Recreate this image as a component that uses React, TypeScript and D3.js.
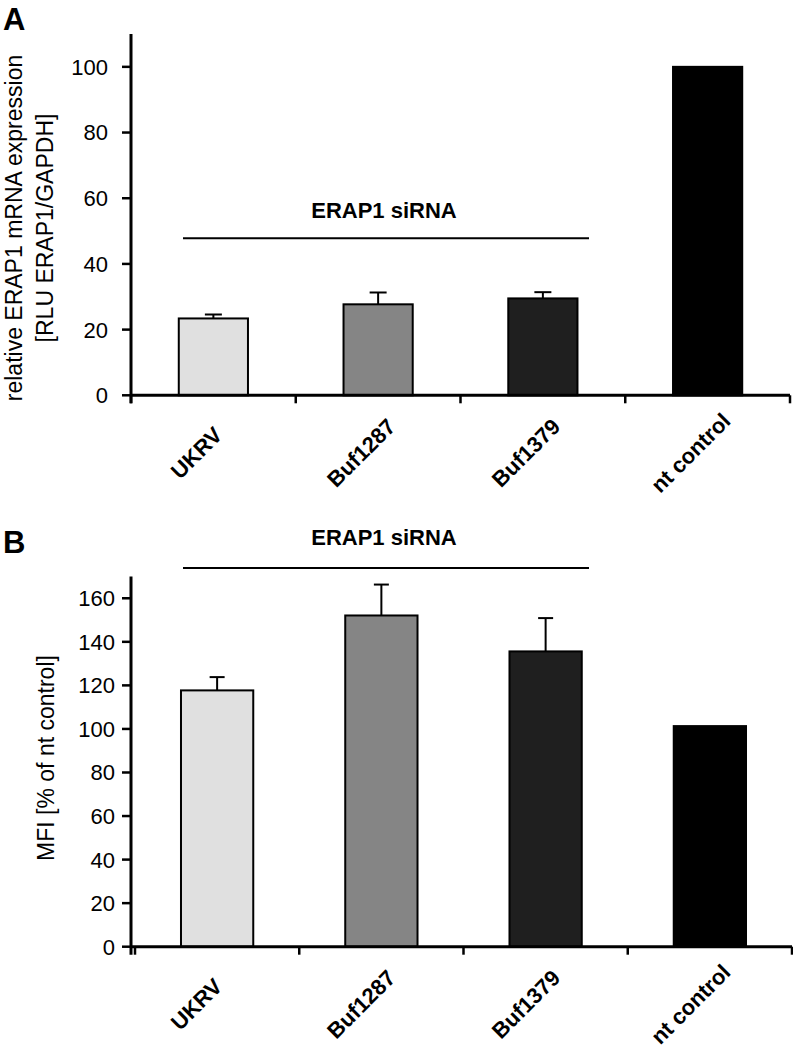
import React from "react";
import * as d3 from "d3";

const categories = ["UKRV", "Buf1287", "Buf1379", "nt control"];
const colors = ["#e0e0e0", "#858585", "#1f1f1f", "#000000"];

const mrnaValues = [23.4, 27.7, 29.5, 100];
const mrnaErrors = [1.2, 3.6, 1.9, 0];
const mrnaTicks = [0, 20, 40, 60, 80, 100];

const mfiValues = [117.7, 152.1, 135.6, 101.3];
const mfiErrors = [6.1, 14.2, 15.3, 0];
const mfiTicks = [0, 20, 40, 60, 80, 100, 120, 140, 160];

const FONT = "'Liberation Sans', Arial, Helvetica, sans-serif";

type PanelProps = {
  letter: string;
  letterY: number;
  values: number[];
  errors: number[];
  ticks: number[];
  yMax: number;
  yTop: number;
  yBottom: number;
  xRange: [number, number];
  barPad: number;
  labelLines: { text: string; x: number }[];
  labelCenterY: number;
  tickLabelX: number;
  siRNATextY: number;
  siRNALineY: number;
  capW: number;
};

function Panel(p: PanelProps) {
  const x = d3
    .scaleBand<string>()
    .domain(categories)
    .range(p.xRange)
    .paddingInner(p.barPad)
    .paddingOuter(p.barPad / 2);
  const y = d3.scaleLinear().domain([0, p.yMax]).range([p.yBottom, p.yTop]);
  const axisX = 131;
  const step = x.step();
  const boundaries = d3.range(categories.length + 1).map((i) => p.xRange[0] + i * step);
  const labelX = d3.scaleBand<string>().domain(categories).range([131, 790]);

  return (
    <g>
      <text x={3} y={p.letterY} fontFamily={FONT} fontWeight="bold" fontSize={31}>
        {p.letter}
      </text>
      {categories.map((c, i) => {
        const bx = x(c)!;
        const top = y(p.values[i]);
        const cx = bx + x.bandwidth() / 2;
        return (
          <g key={c}>
            {p.errors[i] > 0 && (
              <g stroke="#000" strokeWidth={2}>
                <line x1={cx} x2={cx} y1={top} y2={y(p.values[i] + p.errors[i])} />
                <line
                  x1={cx - p.capW / 2}
                  x2={cx + p.capW / 2}
                  y1={y(p.values[i] + p.errors[i])}
                  y2={y(p.values[i] + p.errors[i])}
                />
              </g>
            )}
            <rect
              x={bx}
              y={top}
              width={x.bandwidth()}
              height={p.yBottom - top}
              fill={colors[i]}
              stroke="#000"
              strokeWidth={2}
            />
          </g>
        );
      })}
      <line x1={axisX} x2={axisX} y1={p.yTop} y2={p.yBottom + 8} stroke="#000" strokeWidth={3} />
      {p.ticks.map((t) => (
        <g key={t}>
          <line x1={axisX - 9} x2={axisX} y1={y(t)} y2={y(t)} stroke="#000" strokeWidth={2.5} />
          <text
            x={p.tickLabelX}
            y={y(t)}
            dy="0.36em"
            textAnchor="end"
            fontFamily={FONT}
            fontSize={22}
          >
            {t}
          </text>
        </g>
      ))}
      <line x1={axisX} x2={boundaries[boundaries.length - 1]} y1={p.yBottom} y2={p.yBottom} stroke="#000" strokeWidth={3} />
      {boundaries.map((b, i) => (
        <line key={i} x1={b} x2={b} y1={p.yBottom} y2={p.yBottom + 8} stroke="#000" strokeWidth={2.5} />
      ))}
      {categories.map((c) => {
        const lx = labelX(c)! + labelX.bandwidth() / 2 - 17;
        const ly = p.yBottom + 57.5;
        return (
          <text
            key={c}
            x={lx}
            y={ly}
            transform={`rotate(-45 ${lx} ${ly})`}
            textAnchor="middle"
            dy="0.35em"
            fontFamily={FONT}
            fontWeight="bold"
            fontSize={22}
          >
            {c}
          </text>
        );
      })}
      {p.labelLines.map((l, i) => (
        <text
          key={i}
          x={l.x}
          y={p.labelCenterY}
          transform={`rotate(-90 ${l.x} ${p.labelCenterY})`}
          textAnchor="middle"
          fontFamily={FONT}
          fontSize={23}
        >
          {l.text}
        </text>
      ))}
      <text x={384} y={p.siRNATextY} textAnchor="middle" fontFamily={FONT} fontWeight="bold" fontSize={22}>
        ERAP1 siRNA
      </text>
      <line x1={183} x2={589} y1={p.siRNALineY} y2={p.siRNALineY} stroke="#000" strokeWidth={2} />
    </g>
  );
}

export default function App() {
  return (
    <svg
      width={793}
      height={1054}
      style={{ position: "absolute", left: 0, top: 0, background: "#fff" }}
    >
      <rect width={793} height={1054} fill="#fff" />
      <Panel
        letter="A"
        letterY={29.5}
        values={mrnaValues}
        errors={mrnaErrors}
        ticks={mrnaTicks}
        yMax={110}
        yTop={34}
        yBottom={395.3}
        xRange={[131, 790]}
        barPad={0.58}
        labelLines={[
          { text: "relative ERAP1 mRNA expression", x: 22 },
          { text: "[RLU ERAP1/GAPDH]", x: 53 },
        ]}
        labelCenterY={228}
        tickLabelX={108}
        siRNATextY={217.5}
        siRNALineY={238.3}
        capW={17}
      />
      <Panel
        letter="B"
        letterY={553}
        values={mfiValues}
        errors={mfiErrors}
        ticks={mfiTicks}
        yMax={170}
        yTop={576.5}
        yBottom={946.7}
        xRange={[135, 792]}
        barPad={0.56}
        labelLines={[{ text: "MFI [% of nt control]", x: 53.5 }]}
        labelCenterY={758}
        tickLabelX={115}
        siRNATextY={545}
        siRNALineY={568}
        capW={15}
      />
    </svg>
  );
}
